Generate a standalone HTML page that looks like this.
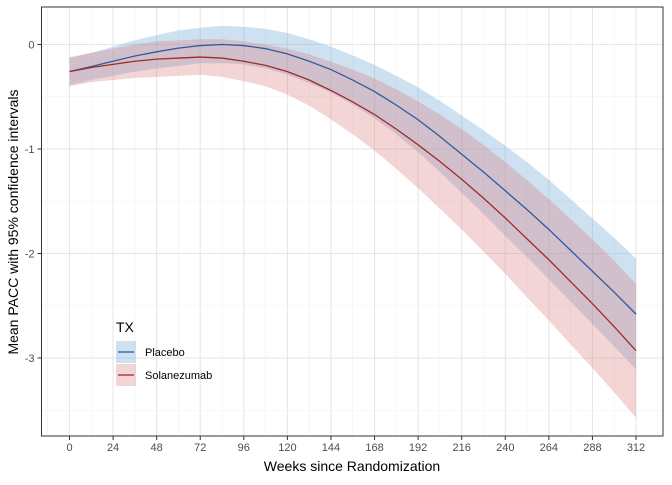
<!DOCTYPE html>
<html><head><meta charset="utf-8"><style>
body{margin:0;background:#fff;font-family:"Liberation Sans",Arial,sans-serif}
svg text{font-family:"Liberation Sans",Arial,sans-serif}
</style></head><body>
<svg id="chart" width="672" height="480" xmlns="http://www.w3.org/2000/svg">
<g id="grid"></g><g id="bands"></g><g id="lines"></g><g id="axes"></g>
<text x="352" y="471" text-anchor="middle" font-size="14" fill="#000">Weeks since Randomization</text>
<text transform="translate(18,222) rotate(-90)" text-anchor="middle" font-size="14" fill="#000">Mean PACC with 95% confidence intervals</text>
<g>
<text x="116" y="332" font-size="14">TX</text>
<g>
<rect x="116" y="341" width="20" height="22" fill="rgba(113,170,215,0.35)"/><line x1="118" x2="134" y1="352" y2="352" stroke="#2F5A9E" stroke-width="1.3"/>
<text x="145" y="356" font-size="11">Placebo</text></g>
<g>
<rect x="116" y="364" width="20" height="22" fill="rgba(220,115,115,0.3)"/><line x1="118" x2="134" y1="375" y2="375" stroke="#A12A2A" stroke-width="1.3"/>
<text x="145" y="379" font-size="11">Solanezumab</text></g>
</g>
</svg>
<script>
const weeks=[0,12,24,36,48,60,72,84,96,108,120,132,144,156,168,180,192,204,216,228,240,252,264,276,288,300,312];
const placeboMean=[-0.26,-0.21,-0.16,-0.11,-0.07,-0.035,-0.01,0,-0.01,-0.04,-0.09,-0.16,-0.24,-0.34,-0.45,-0.58,-0.72,-0.88,-1.05,-1.22,-1.4,-1.58,-1.77,-1.97,-2.17,-2.37,-2.58];
const placeboHalf=[0.13,0.13,0.14,0.15,0.16,0.17,0.17,0.18,0.18,0.19,0.2,0.21,0.22,0.235,0.255,0.28,0.31,0.34,0.37,0.4,0.43,0.455,0.475,0.49,0.505,0.52,0.53];
const solMean=[-0.26,-0.22,-0.19,-0.16,-0.14,-0.13,-0.12,-0.13,-0.16,-0.2,-0.26,-0.34,-0.44,-0.55,-0.67,-0.81,-0.96,-1.12,-1.29,-1.47,-1.66,-1.86,-2.06,-2.27,-2.48,-2.7,-2.93];
const solHalf=[0.14,0.14,0.15,0.16,0.17,0.17,0.17,0.18,0.19,0.2,0.22,0.245,0.275,0.31,0.345,0.38,0.415,0.45,0.48,0.51,0.535,0.56,0.58,0.6,0.615,0.63,0.64];
const xTicks=[0,24,48,72,96,120,144,168,192,216,240,264,288,312];
const yTicks=[0,-1,-2,-3];
const L=41.5,R=663,T=7,B=436;
const x=w=>69.5+w*(636-69.5)/312;
const y=v=>44.5-v*104.5;
const NS='http://www.w3.org/2000/svg';
function mk(tag,attrs,parent){const e=document.createElementNS(NS,tag);for(const k in attrs)e.setAttribute(k,attrs[k]);parent.appendChild(e);return e;}
const grid=document.getElementById('grid'),axes=document.getElementById('axes');
for(let w=-12;w<=336;w+=12){const X=x(w);if(X<L||X>R)continue;const major=w%24===0;
 const g=mk('line',{x1:X,x2:X,y1:T,y2:B,stroke:major?'#e6e6e6':'#f0f0f0','stroke-width':major?1.1:0.6},grid);
 
 }
for(let v=0.5;v>=-3.5;v-=0.5){const Y=y(v);if(Y<T||Y>B)continue;const major=Number.isInteger(v);
 const g=mk('line',{x1:L,x2:R,y1:Y,y2:Y,stroke:major?'#e6e6e6':'#f0f0f0','stroke-width':major?1.1:0.6},grid);
 
 }
function band(mean,half,fill,name){
 let d='M'+weeks.map((w,i)=>x(w)+','+y(mean[i]+half[i])).join('L');
 d+='L'+weeks.map((w,i)=>x(w)+','+y(mean[i]-half[i])).reverse().join('L')+'Z';
 const p=mk('path',{d:d,fill:fill},document.getElementById('bands'));
 
 }
function line(mean,col,name){
 const p=mk('path',{d:'M'+weeks.map((w,i)=>x(w)+','+y(mean[i])).join('L'),fill:'none',stroke:col,'stroke-width':1.3},document.getElementById('lines'));
 
 }
band(placeboMean,placeboHalf,'rgba(113,170,215,0.35)','placebo-ci-band');
band(solMean,solHalf,'rgba(220,115,115,0.3)','solanezumab-ci-band');
line(placeboMean,'#2F5A9E','placebo-line');
line(solMean,'#A12A2A','solanezumab-line');
const fr=mk('rect',{x:L,y:T,width:R-L,height:B-T,fill:'none',stroke:'#333','stroke-width':1},axes);


xTicks.forEach(w=>{const X=x(w);mk('line',{x1:X,x2:X,y1:B,y2:B+4,stroke:'#333'},axes);
 const t=mk('text',{x:X,y:B+15,'text-anchor':'middle','font-size':11,fill:'#4d4d4d'},axes);t.textContent=w;
 
 });
yTicks.forEach(v=>{const Y=y(v);mk('line',{x1:L-4,x2:L,y1:Y,y2:Y,stroke:'#333'},axes);
 const t=mk('text',{x:L-7,y:Y+4,'text-anchor':'end','font-size':11,fill:'#4d4d4d'},axes);t.textContent=v;
 
 });
</script>
</body></html>
